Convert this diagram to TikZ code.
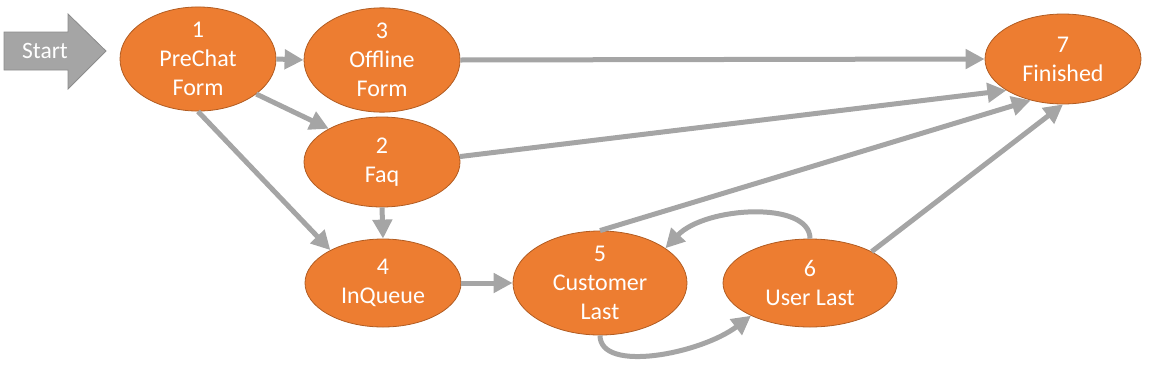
\documentclass[tikz,border=0pt]{standalone}
\usepackage{fontspec}
\setmainfont{Carlito}
\usetikzlibrary{shapes.geometric,arrows.meta}
\definecolor{orfill}{HTML}{ED7D31}
\definecolor{ordraw}{HTML}{B15C22}
\definecolor{grayln}{HTML}{A5A5A5}
\definecolor{graydk}{HTML}{8C8C8C}
\tikzset{
  state/.style={ellipse, fill=orfill, draw=ordraw, line width=0.8pt, inner sep=0pt,
    minimum width=156pt, minimum height=88pt, text=white, align=center,
    font=\fontsize{24}{29}\selectfont},
  wide/.style={minimum width=174pt},
  conn/.style={draw=grayln, line width=5pt, -{Triangle[length=19pt,width=19pt]}},
}
\begin{document}
\begin{tikzpicture}[x=1pt,y=-1pt]
\useasboundingbox (0,0) rectangle (1155,378);
% start arrow
\path[fill=grayln, draw=graydk, line width=0.8pt]
  (4,32) -- (68,32) -- (68,14) -- (106,51) -- (68,89) -- (68,70) -- (4,70) -- cycle;
\node[text=white, font=\fontsize{23.5}{28}\selectfont, inner sep=0pt] (start) at (45,51) {Start};
% states
\node[state] (n1) at (198,59) {1\\PreChat\\Form};
\node[state] (n3) at (382,60) {3\\Offline\\Form};
\node[state, minimum height=90pt] (n2) at (382,162) {2\\Faq};
\node[state, minimum height=90pt] (n7) at (1063,59) {7\\Finished};
\node[state] (n4) at (383,283) {4\\InQueue};
\node[state, wide] (n5) at (600,283) {5\\Customer\\Last};
\node[state, wide] (n6) at (810,283) {6\\User Last};
% connectors
\draw[conn] (n1.east) -- (n3.west);
\draw[conn] (n1.-31) -- (n2.148);
\draw[conn] (n1.south) -- (n4.148);
\draw[conn] (n3.east) -- (n7.west);
\draw[conn] (n2.4) -- (n7.-151);
\draw[conn] (n2.south) -- (n4.north);
\draw[conn] (n4.east) -- (n5.west);
\draw[conn] (n5.north) -- (n7.-128);
\draw[conn] (n6.27) -- (n7.south);
\draw[conn] (n5.south) .. controls +(0,38) and +(-50,38) .. (n6.209);
\draw[conn] (n6.north) .. controls +(0,-38) and +(40,-42) .. (n5.28);
\end{tikzpicture}
\end{document}
